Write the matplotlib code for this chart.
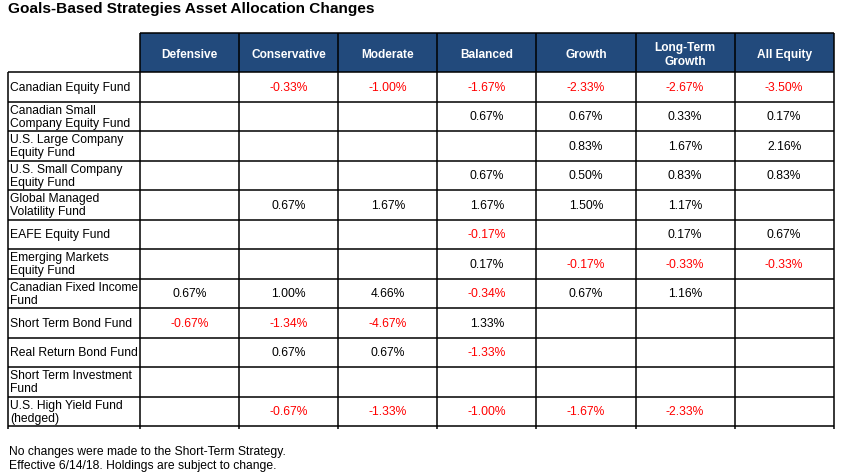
import matplotlib
matplotlib.use("Agg")
import matplotlib.pyplot as plt
from matplotlib.patches import Rectangle

title = "Goals-Based Strategies Asset Allocation Changes"
columns = ["Defensive", "Conservative", "Moderate", "Balanced", "Growth",
           "Long-Term\nGrowth", "All Equity"]
funds = [
    "Canadian Equity Fund",
    "Canadian Small\nCompany Equity Fund",
    "U.S. Large Company\nEquity Fund",
    "U.S. Small Company\nEquity Fund",
    "Global Managed\nVolatility Fund",
    "EAFE Equity Fund",
    "Emerging Markets\nEquity Fund",
    "Canadian Fixed Income\nFund",
    "Short Term Bond Fund",
    "Real Return Bond Fund",
    "Short Term Investment\nFund",
    "U.S. High Yield Fund\n(hedged)",
]
canadian_equity = [None, -0.33, -1.00, -1.67, -2.33, -2.67, -3.50]
canadian_small = [None, None, None, 0.67, 0.67, 0.33, 0.17]
us_large = [None, None, None, None, 0.83, 1.67, 2.16]
us_small = [None, None, None, 0.67, 0.50, 0.83, 0.83]
global_mv = [None, 0.67, 1.67, 1.67, 1.50, 1.17, None]
eafe = [None, None, None, -0.17, None, 0.17, 0.67]
emerging = [None, None, None, 0.17, -0.17, -0.33, -0.33]
cdn_fixed = [0.67, 1.00, 4.66, -0.34, 0.67, 1.16, None]
short_bond = [-0.67, -1.34, -4.67, 1.33, None, None, None]
real_return = [None, 0.67, 0.67, -1.33, None, None, None]
short_inv = [None, None, None, None, None, None, None]
us_high_yield = [None, -0.67, -1.33, -1.00, -1.67, -2.33, None]
values = [canadian_equity, canadian_small, us_large, us_small, global_mv, eafe,
          emerging, cdn_fixed, short_bond, real_return, short_inv, us_high_yield]
footnotes = ["No changes were made to the Short-Term Strategy.",
             "Effective 6/14/18. Holdings are subject to change."]

W, H = 842, 475
fig = plt.figure(figsize=(W / 100, H / 100), dpi=100)
ax = fig.add_axes([0, 0, 1, 1])
ax.set_xlim(0, W)
ax.set_ylim(H, 0)
ax.axis("off")

font = "Liberation Sans"
fs = 8.7
lw = 1.1
header_color = "#224A7C"

# layout
x_left = 8
x_first = 140
col_w = 99.1
y_head_top = 33
y_head_bot = 72
row_h = 29.5
n_rows = len(funds)
n_cols = len(columns)
x_right = x_first + col_w * n_cols
y_bot = y_head_bot + row_h * n_rows

ax.text(8, 8.5, title, fontsize=11.1, fontweight="bold", family=font,
        ha="left", va="center", color="black")

# header
ax.add_patch(Rectangle((x_first, y_head_top), x_right - x_first,
                       y_head_bot - y_head_top, facecolor=header_color,
                       edgecolor="none"))
for j, c in enumerate(columns):
    xc = x_first + col_w * (j + 0.5)
    ax.text(xc, (y_head_top + y_head_bot) / 2 + 2.5, c, fontsize=8.6,
            fontweight="bold", family=font, color="white", ha="center",
            va="center", linespacing=1.2)

# grid lines
ax.plot([x_first, x_right], [y_head_top, y_head_top], color="black", lw=lw,
        solid_capstyle="butt")
for i in range(n_rows + 1):
    y = y_head_bot + row_h * i
    ax.plot([x_left, x_right], [y, y], color="black", lw=lw,
            solid_capstyle="butt")
ax.plot([x_left, x_left], [y_head_bot, y_bot + 3], color="black", lw=lw,
        solid_capstyle="butt")
for j in range(n_cols + 1):
    x = x_first + col_w * j
    ax.plot([x, x], [y_head_top, y_bot + 3], color="black", lw=lw,
            solid_capstyle="butt")

# rows
for i, (fund, vals) in enumerate(zip(funds, values)):
    yc = y_head_bot + row_h * (i + 0.5)
    ax.text(x_left + 2, yc + 1, fund, fontsize=fs, family=font,
            color="black", ha="left", va="center", linespacing=1.15)
    for j, v in enumerate(vals):
        if v is None:
            continue
        xc = x_first + col_w * (j + 0.5)
        col = "#FF0000" if v < 0 else "black"
        ax.text(xc, yc + 1, f"{v:.2f}%", fontsize=fs, family=font,
                color=col, ha="center", va="center")

ax.text(9, 452, footnotes[0], fontsize=fs, family=font, ha="left",
        va="center", color="black")
ax.text(9, 466, footnotes[1], fontsize=fs, family=font, ha="left",
        va="center", color="black")

fig.savefig("out.png", dpi=100)
